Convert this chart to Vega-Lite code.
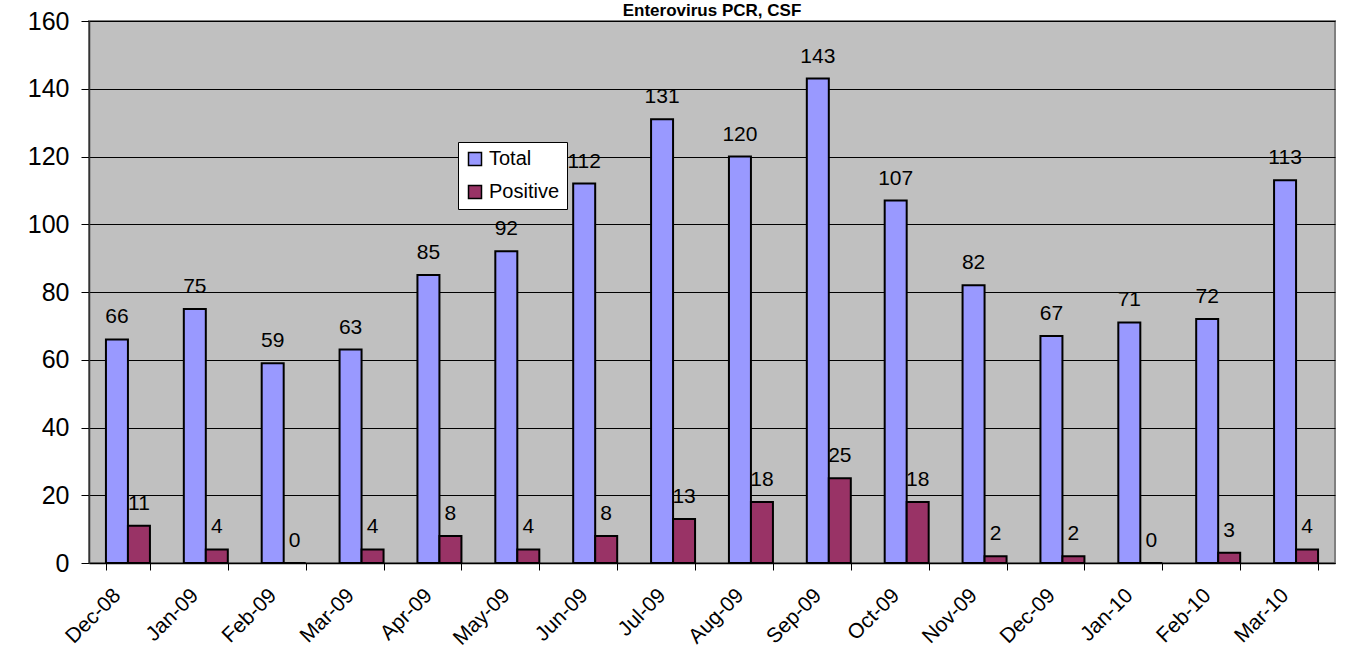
{
  "$schema": "https://vega.github.io/schema/vega-lite/v6.json",
  "autosize": {"type": "none"},
  "padding": {"left": 89, "top": 21, "right": 16, "bottom": 99},
  "width": 1246,
  "height": 542,
  "background": "white",
  "title": {
    "text": "Enterovirus PCR, CSF",
    "font": "Liberation Sans",
    "fontSize": 17,
    "fontWeight": "bold",
    "color": "black",
    "anchor": "middle",
    "frame": "group",
    "baseline": "alphabetic",
    "offset": -24
  },
  "config": {
    "font": "Liberation Sans",
    "view": {"fill": "#C0C0C0", "stroke": "#808080", "strokeWidth": 2}
  },
  "data": {
    "values": [
      {"month": "Dec-08", "series": "Total", "value": 66},
      {"month": "Dec-08", "series": "Positive", "value": 11},
      {"month": "Jan-09", "series": "Total", "value": 75},
      {"month": "Jan-09", "series": "Positive", "value": 4},
      {"month": "Feb-09", "series": "Total", "value": 59},
      {"month": "Feb-09", "series": "Positive", "value": 0},
      {"month": "Mar-09", "series": "Total", "value": 63},
      {"month": "Mar-09", "series": "Positive", "value": 4},
      {"month": "Apr-09", "series": "Total", "value": 85},
      {"month": "Apr-09", "series": "Positive", "value": 8},
      {"month": "May-09", "series": "Total", "value": 92},
      {"month": "May-09", "series": "Positive", "value": 4},
      {"month": "Jun-09", "series": "Total", "value": 112},
      {"month": "Jun-09", "series": "Positive", "value": 8},
      {"month": "Jul-09", "series": "Total", "value": 131},
      {"month": "Jul-09", "series": "Positive", "value": 13},
      {"month": "Aug-09", "series": "Total", "value": 120},
      {"month": "Aug-09", "series": "Positive", "value": 18},
      {"month": "Sep-09", "series": "Total", "value": 143},
      {"month": "Sep-09", "series": "Positive", "value": 25},
      {"month": "Oct-09", "series": "Total", "value": 107},
      {"month": "Oct-09", "series": "Positive", "value": 18},
      {"month": "Nov-09", "series": "Total", "value": 82},
      {"month": "Nov-09", "series": "Positive", "value": 2},
      {"month": "Dec-09", "series": "Total", "value": 67},
      {"month": "Dec-09", "series": "Positive", "value": 2},
      {"month": "Jan-10", "series": "Total", "value": 71},
      {"month": "Jan-10", "series": "Positive", "value": 0},
      {"month": "Feb-10", "series": "Total", "value": 72},
      {"month": "Feb-10", "series": "Positive", "value": 3},
      {"month": "Mar-10", "series": "Total", "value": 113},
      {"month": "Mar-10", "series": "Positive", "value": 4}
    ]
  },
  "encoding": {
    "x": {
      "field": "month",
      "type": "nominal",
      "sort": null,
      "title": null,
      "scale": {"paddingInner": 0.435, "paddingOuter": 0.2175},
      "axis": {
        "labelAngle": -45,
        "labelAlign": "right",
        "labelBaseline": "middle",
        "labelFontSize": 21,
        "labelColor": "black",
        "labelPadding": 22,
        "labelOffset": -11,
        "tickBand": "extent",
        "tickSize": 7,
        "tickColor": "black",
        "domainColor": "black",
        "domainWidth": 1.5,
        "grid": false
      }
    },
    "xOffset": {
      "field": "series",
      "type": "nominal",
      "scale": {"domain": ["Total", "Positive"], "paddingInner": 0, "paddingOuter": 0}
    },
    "y": {
      "field": "value",
      "type": "quantitative",
      "title": null,
      "scale": {"domain": [0, 160], "nice": false},
      "axis": {
        "values": [0, 20, 40, 60, 80, 100, 120, 140, 160],
        "labelFontSize": 25,
        "labelColor": "black",
        "labelPadding": 12,
        "tickSize": 8,
        "tickColor": "black",
        "domainColor": "#333333",
        "domainWidth": 1.5,
        "grid": true,
        "gridColor": "black",
        "gridWidth": 1
      }
    }
  },
  "layer": [
    {
      "mark": {"type": "bar", "stroke": "black", "strokeWidth": 2},
      "encoding": {
        "color": {
          "field": "series",
          "type": "nominal",
          "scale": {"domain": ["Total", "Positive"], "range": ["#9999FF", "#993366"]},
          "legend": {
            "title": null,
            "orient": "none",
            "legendX": 369,
            "legendY": 121,
            "fillColor": "white",
            "strokeColor": "black",
            "padding": 7,
            "symbolType": "square",
            "symbolSize": 169,
            "symbolStrokeColor": "black",
            "symbolStrokeWidth": 1.5,
            "symbolOpacity": 1,
            "labelFontSize": 20,
            "labelColor": "black",
            "labelOffset": 4,
            "rowPadding": 13
          }
        }
      }
    },
    {
      "mark": {"type": "text", "baseline": "alphabetic", "dy": -16, "fontSize": 21, "color": "black"},
      "encoding": {
        "text": {"field": "value", "type": "quantitative"}
      }
    }
  ]
}
